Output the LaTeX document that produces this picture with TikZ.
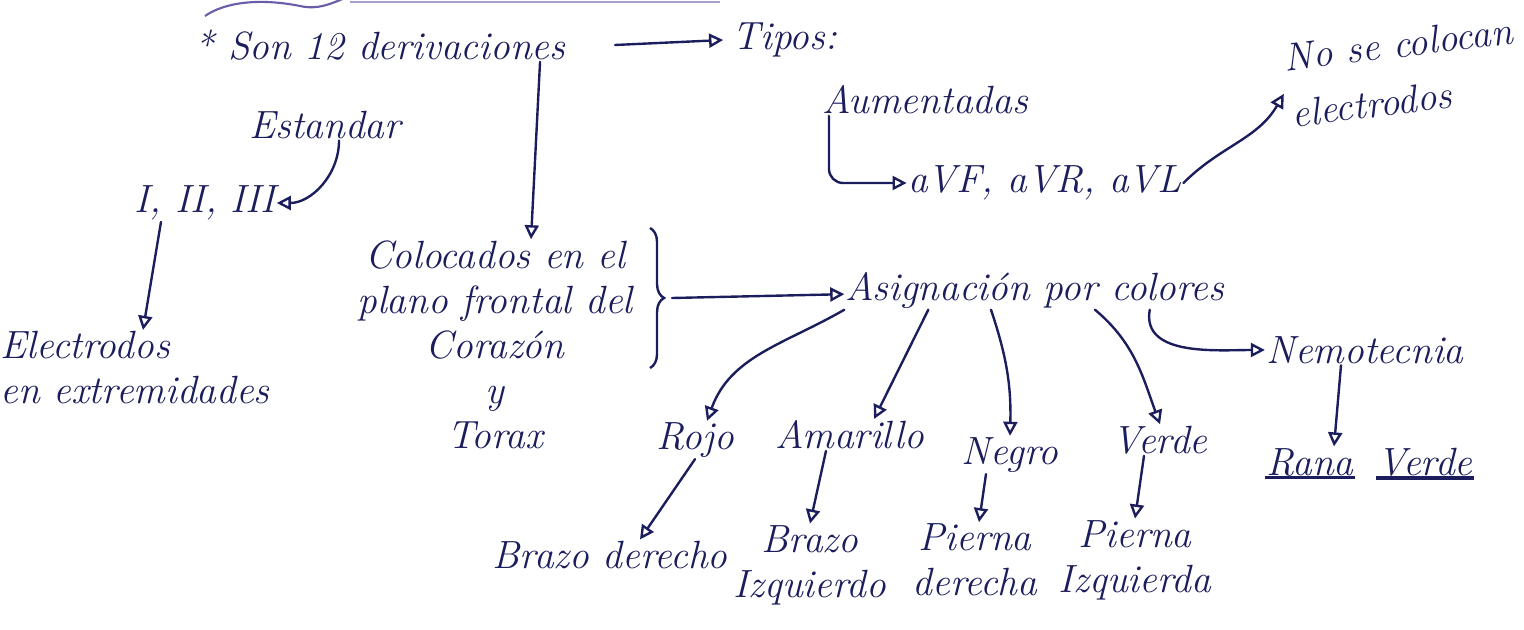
\documentclass[tikz,border=0pt]{standalone}
\usetikzlibrary{arrows.meta,decorations.pathreplacing}
\definecolor{ink}{HTML}{1B1D5C}
\definecolor{cloudink}{HTML}{6A5CA8}

\begin{document}
\begin{tikzpicture}[x=0.025cm,y=-0.025cm,
    >={Triangle[open,length=10pt,width=10pt]},
    txt/.style={text=ink,font=\fontsize{28}{32}\selectfont\itshape,inner sep=1pt},
    link/.style={draw=ink,line width=1.7pt,->,line cap=round}]
    \useasboundingbox (0,0) rectangle (1524,630);
    % trozo de nube arriba
    \draw[cloudink,line width=1.5pt] (205,16) .. controls (225,2) and (260,-2) .. (300,6) .. controls (318,10) and (330,4) .. (345,-2);
    \draw[cloudink!60,line width=1.2pt] (350,2) -- (720,2);
    % nodos
    \node[txt] (son) at (380,45) {* Son 12 derivaciones};
    \node[txt] (tipos) at (785,40) {Tipos:};
    \node[txt] (est) at (325,125) {Estandar};
    \node[txt] (std) at (205,203) {I, II, III};
    \node[txt,align=left] (elec) at (135,368) {Electrodos\\en extremidades};
    \node[txt,align=center] (plano) at (495,345) {Colocados en el\\plano frontal del\\Corazón\\y\\Torax};
    \node[txt] (aum) at (925,100) {Aumentadas};
    \node[txt] (avf) at (1045,183) {aVF, aVR, aVL};
    \node[txt,rotate=7,inner sep=0pt] (nose1) at (1398,44) {No se colocan};
    \node[txt,rotate=7,inner sep=0pt] (nose2) at (1372,104) {electrodos};
    \node[txt] (asig) at (1035,290) {Asignación por colores};
    \node[txt] (rojo) at (695,440) {Rojo};
    \node[txt] (amar) at (850,435) {Amarillo};
    \node[txt] (negro) at (1010,455) {Negro};
    \node[txt] (verde) at (1160,440) {Verde};
    \node[txt] (nemo) at (1365,350) {Nemotecnia};
    \node[txt] (rana) at (1310,462) {Rana};
    \node[txt] (rverde) at (1425,462) {Verde};
    \node[txt] (bd) at (610,555) {Brazo derecho};
    \node[txt,align=center] (bi) at (810,565) {Brazo\\Izquierdo};
    \node[txt,align=center] (pd) at (975,560) {Pierna\\derecha};
    \node[txt,align=center] (pi) at (1135,560) {Pierna\\Izquierda};
    % llave
    \coordinate (btop) at (650,228);
    \coordinate (bbot) at (650,368);
    \coordinate (btip) at (672,298);
    \draw[ink,line width=1.7pt,decorate,decoration={brace,amplitude=10pt}] (btop) -- (bbot);
    % flechas
    \draw[link] ([xshift=1.2cm]son.east) -- ([xshift=-0.2cm]tipos.west);
    \draw[link] ([xshift=4cm]son.south) -- ([xshift=0.9cm]plano.north);
    \draw[link] ([xshift=0.35cm]est.south) to[out=-90,in=0] (std.east);
    \draw[link] ([xshift=-1.1cm]std.south) -- ([xshift=0.2cm]elec.north);
    \draw[link] (btip) -- (asig);
    \draw[link,rounded corners=10pt] ([xshift=-2.4cm]aum.south) |- (avf.west);
    \draw[link] (avf.east) to[out=45,in=-120] ([yshift=0.5cm,xshift=-0.2cm]nose2.west);
    \draw[link] (asig.south west) to[out=-150,in=70] ([xshift=0.3cm]rojo.north);
    \draw[link] ([xshift=2.1cm]asig.south west) -- ([xshift=0.6cm]amar.north);
    \draw[link] ([xshift=-1.1cm]asig.south) to[bend left=10] (negro.north);
    \draw[link] ([xshift=1.5cm]asig.south) to[out=-40,in=110] (verde.north);
    \draw[link] ([xshift=-1.9cm]asig.south east) to[out=-100,in=180] (nemo.west);
    \draw[link] ([xshift=-0.6cm]nemo.south) -- ([xshift=0.6cm]rana.north);
    \draw[link] (rojo.south) -- ([xshift=0.75cm]bd.north);
    \draw[link] ([xshift=-0.6cm]amar.south) -- (bi.north);
    \draw[link] ([xshift=-0.6cm]negro.south) -- ([xshift=0.1cm]pd.north);
    \draw[link] ([xshift=-0.4cm]verde.south) -- (pi.north);
    % subrayado
    \draw[ink,line width=2.5pt] (rana.south west) -- (rana.south east);
    \draw[ink,line width=2.5pt] (rverde.south west) -- (rverde.south east);
\end{tikzpicture}
\end{document}
